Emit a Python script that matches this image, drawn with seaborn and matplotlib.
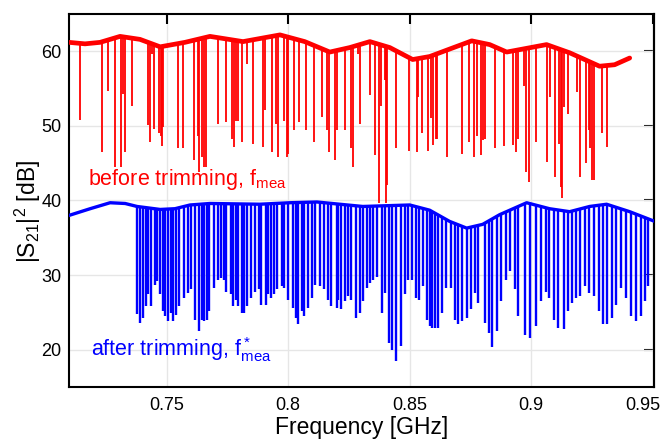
import numpy as np
import matplotlib
matplotlib.use('Agg')
import matplotlib.pyplot as plt
import matplotlib.transforms as mtrans
import seaborn as sns
from matplotlib.path import Path

# 트리밍 전 (red) : 기준선 + 공진 딥
red_base_x = [0.7098, 0.7164, 0.7226, 0.7308, 0.7390, 0.7473, 0.7575, 0.7678, 0.7814,
              0.7966, 0.8068, 0.8171, 0.8253, 0.8336, 0.8418, 0.8512, 0.8582, 0.8664,
              0.8755, 0.8829, 0.8899, 0.8981, 0.9063, 0.9158, 0.9281, 0.9343, 0.9405]
red_base_y = [61.2, 61.0, 61.2, 62.0, 61.6, 60.6, 61.2, 62.0, 61.3,
              62.2, 61.3, 59.9, 60.5, 61.3, 60.5, 58.9, 59.3, 60.3,
              61.4, 60.9, 59.9, 60.4, 60.9, 59.8, 58.0, 58.2, 59.1]

red_dip_x = [0.7144, 0.7234, 0.7259, 0.7289, 0.7313, 0.7322, 0.7330, 0.7357, 0.7422, 0.7431,
             0.7440, 0.7449, 0.7470, 0.7477, 0.7481, 0.7486, 0.7545, 0.7566, 0.7613, 0.7627,
             0.7634, 0.7645, 0.7655, 0.7662, 0.7712, 0.7744, 0.7767, 0.7777, 0.7785, 0.7794,
             0.7808, 0.7829, 0.7856, 0.7895, 0.7904, 0.7932, 0.7949, 0.7959, 0.7982, 0.7993,
             0.8000, 0.8023, 0.8045, 0.8075, 0.8105, 0.8137, 0.8160, 0.8168, 0.8192, 0.8199,
             0.8233, 0.8260, 0.8265, 0.8288, 0.8295, 0.8336, 0.8359, 0.8373, 0.8381, 0.8400,
             0.8404, 0.8408, 0.8445, 0.8496, 0.8528, 0.8534, 0.8552, 0.8575, 0.8586, 0.8597,
             0.8606, 0.8614, 0.8655, 0.8713, 0.8743, 0.8763, 0.8778, 0.8792, 0.8801, 0.8808,
             0.8849, 0.8889, 0.8925, 0.8936, 0.8945, 0.8969, 0.8980, 0.8990, 0.9021, 0.9066,
             0.9078, 0.9096, 0.9114, 0.9121, 0.9125, 0.9133, 0.9152, 0.9188, 0.9202, 0.9226,
             0.9237, 0.9243, 0.9251, 0.9260, 0.9292, 0.9311]
red_dip_y = [50.8, 46.5, 54.7, 44.5, 44.5, 54.3, 46.5, 52.7, 50.1, 47.9,
             59.7, 49.6, 49.0, 48.7, 47.3, 49.9, 47.0, 47.0, 45.4, 48.7,
             43.8, 45.8, 44.5, 44.5, 50.3, 50.5, 48.3, 47.2, 50.7, 50.7,
             47.9, 58.3, 47.6, 47.2, 52.1, 46.5, 50.3, 45.8, 50.7, 45.8,
             46.3, 49.4, 50.5, 49.4, 47.9, 51.2, 49.4, 46.5, 45.4, 49.4,
             49.4, 47.0, 44.5, 59.7, 50.3, 54.1, 46.1, 39.6, 52.7, 56.1,
             39.6, 42.1, 47.0, 46.7, 46.5, 53.9, 49.0, 46.7, 51.0, 47.4,
             48.3, 48.3, 45.8, 46.3, 47.9, 45.8, 48.7, 46.1, 48.1, 48.3,
             47.0, 47.3, 47.4, 46.5, 48.3, 55.4, 43.8, 42.5, 47.9, 45.2,
             53.9, 43.2, 47.6, 41.8, 40.3, 52.5, 51.6, 54.5, 43.2, 45.0,
             49.4, 47.0, 42.7, 42.7, 49.0, 47.2]

# 트리밍 후 (blue)
blue_base_x = [0.7098, 0.7185, 0.7267, 0.7329, 0.7378, 0.7473, 0.7534, 0.7596, 0.7678,
               0.7883, 0.8007, 0.8118, 0.8212, 0.8307, 0.8500, 0.8582, 0.8664, 0.8734,
               0.8800, 0.8870, 0.8981, 0.9075, 0.9158, 0.9240, 0.9310, 0.9405, 0.9508]
blue_base_y = [38.0, 38.9, 39.7, 39.6, 39.2, 38.8, 38.9, 39.4, 39.6,
               39.5, 39.7, 39.8, 39.5, 39.2, 39.4, 38.7, 37.2, 36.3,
               36.8, 38.1, 39.7, 38.9, 38.5, 39.2, 39.5, 38.5, 37.2]

blue_dip_x = [0.7377, 0.7390, 0.7404, 0.7415, 0.7424, 0.7434, 0.7452, 0.7461, 0.7472, 0.7486,
              0.7494, 0.7507, 0.7516, 0.7527, 0.7538, 0.7552, 0.7571, 0.7589, 0.7598, 0.7616,
              0.7631, 0.7644, 0.7653, 0.7664, 0.7675, 0.7694, 0.7712, 0.7723, 0.7735, 0.7746,
              0.7763, 0.7774, 0.7785, 0.7794, 0.7808, 0.7818, 0.7829, 0.7845, 0.7863, 0.7879,
              0.7890, 0.7908, 0.7918, 0.7929, 0.7941, 0.7952, 0.7973, 0.7982, 0.8000, 0.8018,
              0.8034, 0.8041, 0.8055, 0.8064, 0.8082, 0.8096, 0.8110, 0.8130, 0.8147, 0.8164,
              0.8178, 0.8199, 0.8205, 0.8219, 0.8233, 0.8247, 0.8260, 0.8278, 0.8295, 0.8306,
              0.8325, 0.8338, 0.8349, 0.8366, 0.8384, 0.8397, 0.8415, 0.8425, 0.8443, 0.8462,
              0.8480, 0.8493, 0.8511, 0.8527, 0.8538, 0.8555, 0.8571, 0.8582, 0.8593, 0.8603,
              0.8617, 0.8634, 0.8651, 0.8669, 0.8685, 0.8700, 0.8717, 0.8737, 0.8753, 0.8767,
              0.8781, 0.8808, 0.8826, 0.8840, 0.8859, 0.8877, 0.8897, 0.8911, 0.8932, 0.8945,
              0.8973, 0.8993, 0.9018, 0.9041, 0.9059, 0.9075, 0.9092, 0.9110, 0.9133, 0.9151,
              0.9169, 0.9185, 0.9202, 0.9222, 0.9237, 0.9260, 0.9278, 0.9295, 0.9312, 0.9333,
              0.9349, 0.9370, 0.9388, 0.9411, 0.9432, 0.9452, 0.9470, 0.9480]
blue_dip_y = [24.8, 23.6, 24.3, 25.8, 27.4, 25.8, 28.7, 29.2, 27.4, 25.2,
              24.5, 23.8, 24.9, 23.8, 24.7, 25.9, 26.9, 27.6, 28.1, 24.0,
              22.5, 24.0, 23.8, 24.0, 25.2, 28.3, 29.4, 29.6, 29.4, 27.8,
              27.4, 25.8, 26.7, 25.8, 24.9, 24.9, 25.8, 26.9, 27.8, 28.1,
              26.0, 26.0, 27.4, 26.9, 27.4, 28.1, 28.5, 28.3, 26.7, 25.6,
              24.3, 23.4, 25.2, 24.5, 25.6, 26.9, 28.7, 28.5, 28.1, 26.7,
              25.8, 25.6, 26.7, 25.4, 26.5, 27.2, 26.7, 24.3, 24.9, 26.5,
              28.3, 28.9, 29.4, 29.8, 24.9, 27.6, 20.9, 20.0, 18.5, 20.5,
              27.4, 29.4, 29.4, 26.9, 26.7, 28.5, 24.0, 23.2, 22.9, 22.9,
              22.9, 24.9, 28.3, 28.3, 24.0, 23.4, 23.8, 24.3, 25.4, 27.6,
              26.3, 23.6, 22.3, 20.3, 22.5, 26.5, 29.4, 30.5, 28.1, 24.5,
              22.0, 21.6, 23.2, 26.5, 27.8, 26.9, 24.0, 22.9, 22.8, 25.2,
              26.3, 26.9, 27.2, 28.5, 27.6, 27.2, 25.2, 23.4, 23.4, 24.3,
              26.0, 28.3, 26.9, 24.5, 23.8, 24.5, 26.5, 28.5]

xticks = [0.75, 0.8, 0.85, 0.9, 0.95]
xticklabels = ['0.75', '0.8', '0.85', '0.9', '0.95']
yticks = [20, 30, 40, 50, 60]

sns.set_style('white')
plt.rcParams['font.family'] = ['Liberation Sans', 'DejaVu Sans']
plt.rcParams['mathtext.fontset'] = 'custom'
plt.rcParams['mathtext.rm'] = 'Liberation Sans'
plt.rcParams['mathtext.it'] = 'Liberation Sans'
plt.rcParams['text.color'] = 'black'
plt.rcParams['axes.labelcolor'] = 'black'
plt.rcParams['xtick.color'] = 'black'
plt.rcParams['ytick.color'] = 'black'

fig = plt.figure(figsize=(6.61, 4.46), dpi=100)
ax = fig.add_axes([0.1044, 0.1323, 0.885, 0.8363])
ax.set_xlim(0.7098, 0.9505)
ax.set_ylim(15, 65)
ax.grid(True, color='#e6e6e6', lw=1.0, zorder=0)
ax.set_axisbelow(True)


def draw_trace(bx, by, dx, dy, color, lw_base, lw_dip):
    # 딥은 아래에서 위로 그리고, 기준선 아래쪽 영역으로 잘라냄
    verts = list(zip(bx, by)) + [(bx[-1], 0), (bx[0], 0), (bx[0], by[0])]
    clip = Path(verts, closed=True)
    lc = ax.vlines(dx, dy, 70, color=color, lw=lw_dip, zorder=2)
    lc.set_clip_path(clip, transform=ax.transData)
    sns.lineplot(x=bx, y=by, color=color, lw=lw_base, ax=ax, zorder=3, sort=False)


draw_trace(red_base_x, red_base_y, red_dip_x, red_dip_y, '#ff0000', 3.4, 1.3)
draw_trace(blue_base_x, blue_base_y, blue_dip_x, blue_dip_y, '#0000ff', 2.4, 1.7)

ax.text(0.7177, 42.1, r'before trimming, $\mathregular{f_{mea}}$', color='#ff0000',
        fontsize=15.5, va='baseline')
ax.text(0.7188, 19.2, r'after trimming, $\mathregular{f^*_{mea}}$', color='#0000ff',
        fontsize=15.5, va='baseline')

ax.set_xticks(xticks)
ax.set_xticklabels(xticklabels)
ax.set_yticks(yticks)
ax.tick_params(axis='x', direction='in', top=True, length=7, width=1.5,
               labelsize=13, pad=7, colors='black')
ax.tick_params(axis='y', direction='out', length=4, width=1.5, labelsize=13, pad=1.5,
               colors='black')
# 마지막 눈금 라벨은 그림 안쪽으로
last = ax.get_xticklabels()[-1]
last.set_transform(last.get_transform() +
                   mtrans.ScaledTranslation(-10 / 100, 0, fig.dpi_scale_trans))

sec = ax.secondary_yaxis('right')
sec.set_yticks(yticks)
sec.tick_params(direction='in', length=7, width=1.5, labelright=False, colors='black')
sec.spines['right'].set_linewidth(1.5)
sec.spines['right'].set_color('black')
for s in ax.spines.values():
    s.set_linewidth(1.5)
    s.set_color('black')

ax.set_xlabel('Frequency [GHz]', fontsize=16.5, labelpad=2, color='black')
ax.set_ylabel(r'$\mathregular{|S_{21}|^2}$ [dB]', fontsize=16.5, color='black')
ax.yaxis.set_label_coords(-0.045, 0.47)

fig.savefig('out.png', dpi=100)
